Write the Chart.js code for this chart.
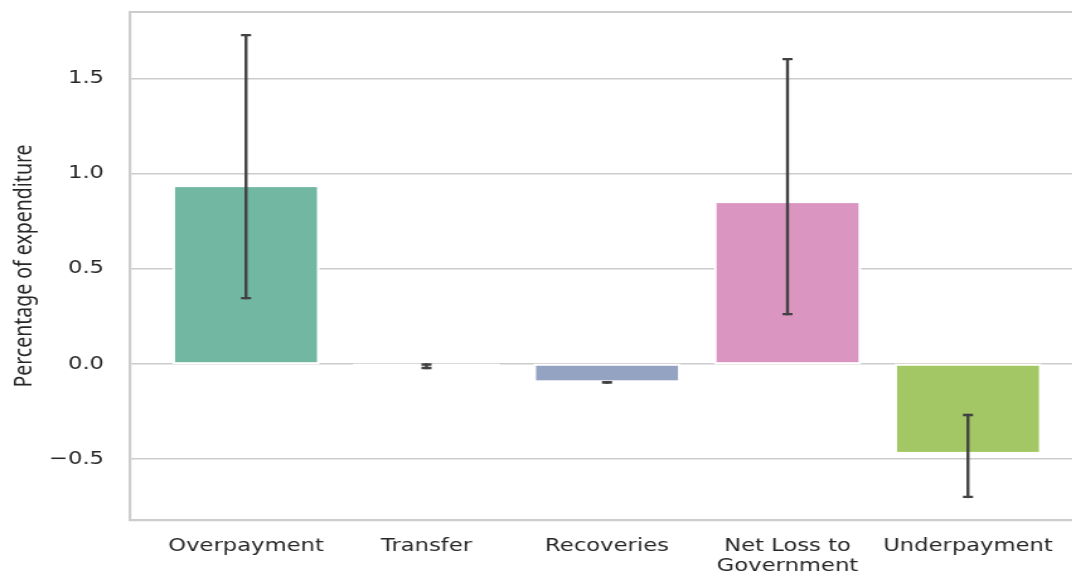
<!DOCTYPE html>
<html>
<head>
<meta charset="utf-8">
<script src="https://cdn.jsdelivr.net/npm/chart.js@4.4.1/dist/chart.umd.min.js"></script>
<style>
  html, body { margin: 0; padding: 0; background: #ffffff; overflow: hidden; width: 1072px; height: 574px; }
  #wrap { position: absolute; left: 0; top: 0; transform-origin: 0 0; }
  canvas { display: block; }
</style>
</head>
<body>
<div id="wrap"><canvas id="c"></canvas></div>
<script>
// Categories and mean share of expenditure, with the 95% interval for each mean
const categories = ['Overpayment', 'Transfer', 'Recoveries', 'Net Loss to\nGovernment', 'Underpayment'];
const values = [0.934, -0.004, -0.091, 0.850, -0.467];
const ciLow  = [0.346, -0.021, -0.098, 0.262, -0.698];
const ciHigh = [1.727, -0.003, -0.096, 1.601, -0.268];
const yTicks = [-0.5, 0.0, 0.5, 1.0, 1.5];
const barColors = ['#71b7a1', '#e99675', '#95a3c3', '#db95c1', '#a2c764'];

// Page geometry: the figure is drawn narrower and widened by STRETCH
const STRETCH = 1.26;
const W = 866, H = 574;
const AREA_LEFT = 130 / STRETCH;
const AREA_RIGHT = 1084 / STRETCH;

const wrap = document.getElementById('wrap');
wrap.style.transform = 'scaleX(' + STRETCH + ')';
const canvas = document.getElementById('c');
canvas.width = W; canvas.height = H;
canvas.style.width = W + 'px'; canvas.style.height = H + 'px';

// y limits with a 5% margin around the interval extremes
const lo = Math.min(...ciLow, ...values), hi = Math.max(...ciHigh, ...values);
const pad = 0.05 * (hi - lo);

const GRID = '#cccccc';
const TEXT = '#262626';

// White outlines centred on each bar's edges, then the interval whiskers and top spine
const overlay = {
  id: 'overlay',
  afterDatasetsDraw(chart) {
    const { ctx, chartArea, scales: { x, y } } = chart;
    ctx.save();
    ctx.strokeStyle = '#ffffff';
    ctx.lineWidth = 2.0;
    chart.getDatasetMeta(0).data.forEach(bar => {
      const p = bar.getProps(['x', 'y', 'base', 'width'], true);
      const top = Math.min(p.y, p.base), bottom = Math.max(p.y, p.base);
      ctx.strokeRect(p.x - p.width / 2, top, p.width, bottom - top);
    });

    ctx.strokeStyle = '#424242';
    ctx.lineWidth = 2.4;
    const cap = 4;
    categories.forEach((c, i) => {
      const px = x.getPixelForValue(i);
      const y0 = y.getPixelForValue(ciLow[i]);
      const y1 = y.getPixelForValue(ciHigh[i]);
      ctx.lineCap = 'square';
      ctx.beginPath();
      ctx.moveTo(px, y0); ctx.lineTo(px, y1);
      ctx.stroke();
      ctx.lineCap = 'butt';
      ctx.beginPath();
      ctx.moveTo(px - cap, y0); ctx.lineTo(px + cap, y0);
      ctx.moveTo(px - cap, y1); ctx.lineTo(px + cap, y1);
      ctx.stroke();
    });

    ctx.strokeStyle = GRID;
    ctx.lineWidth = 2.2;
    ctx.lineCap = 'butt';
    ctx.beginPath();
    ctx.moveTo(chartArea.left - 1.1, chartArea.top);
    ctx.lineTo(chartArea.right, chartArea.top);
    ctx.stroke();
    ctx.restore();
  }
};

new Chart(canvas, {
  type: 'bar',
  data: {
    datasets: [{
      data: values.map((v, i) => ({ x: i, y: v })),
      backgroundColor: barColors,
      borderWidth: 0,
      inflateAmount: 0,
      barPercentage: 0.8,
      categoryPercentage: 1.0
    }]
  },
  options: {
    responsive: false,
    animation: false,
    devicePixelRatio: 1,
    layout: { padding: { left: 0, right: W - AREA_RIGHT, top: 12, bottom: 0 } },
    plugins: { legend: { display: false }, tooltip: { enabled: false } },
    scales: {
      x: {
        type: 'linear',
        offset: false,
        min: -0.6427,
        max: 4.6427,
        afterBuildTicks: s => { s.ticks = categories.map((c, i) => ({ value: i })); },
        afterFit: s => { s.height = 54; s.paddingLeft = 0; s.paddingRight = 0; },
        ticks: {
          callback: v => (categories[v] !== undefined ? categories[v].split('\n') : ''),
          autoSkip: false,
          maxRotation: 0,
          minRotation: 0,
          padding: 16.5,
          color: TEXT,
          font: { family: "'DejaVu Sans', sans-serif", size: 18, lineHeight: 1.1 }
        },
        grid: { display: false, drawTicks: false, offset: false },
        border: { display: true, color: GRID, width: 2.2 }
      },
      y: {
        min: lo - pad,
        max: hi + pad,
        afterBuildTicks: s => { s.ticks = yTicks.map(v => ({ value: v })); },
        afterFit: s => { s.width = AREA_LEFT; s.paddingTop = 0; s.paddingBottom = 0; },
        ticks: {
          callback: v => (v < 0 ? '\u2212' : '') + Math.abs(v).toFixed(1),
          padding: 20.6,
          color: TEXT,
          font: { family: "'DejaVu Sans', sans-serif", size: 18 }
        },
        grid: { color: GRID, lineWidth: 1.6, drawTicks: false },
        border: { display: true, color: GRID, width: 2.2 },
        title: {
          display: true,
          text: 'Percentage of expenditure',
          color: TEXT,
          padding: { top: 7.7, bottom: 0 },
          font: { family: "'Liberation Sans Narrow', 'Noto Sans', sans-serif", size: 19.5 }
        }
      }
    }
  },
  plugins: [overlay]
});
</script>
</body>
</html>
